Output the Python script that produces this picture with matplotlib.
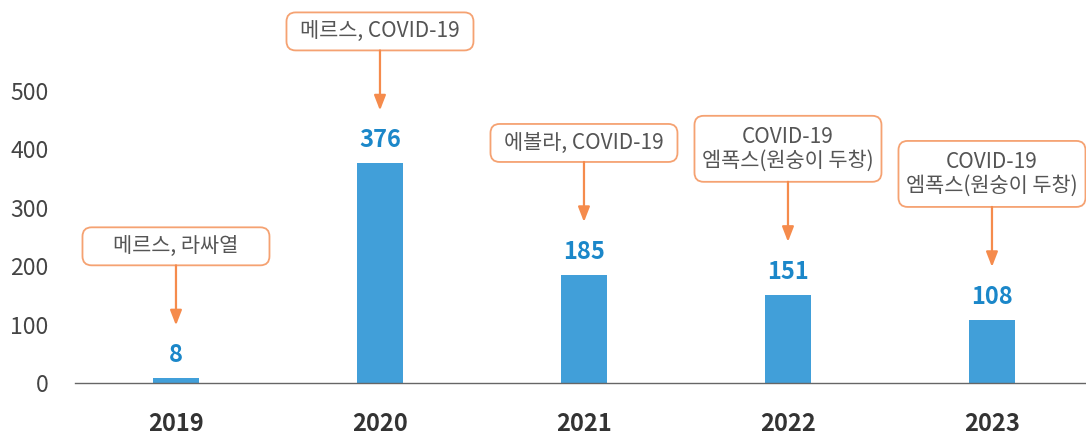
import matplotlib.pyplot as plt
from matplotlib.patches import FancyBboxPatch

plt.rcParams["font.family"] = ["Noto Sans CJK KR", "DejaVu Sans"]

years = ["2019", "2020", "2021", "2022", "2023"]
counts = [8, 376, 185, 151, 108]
notes = [
    "메르스, 라싸열",
    "메르스, COVID-19",
    "에볼라, COVID-19",
    "COVID-19\n엠폭스(원숭이 두창)",
    "COVID-19\n엠폭스(원숭이 두창)",
]
y_ticks = [0, 100, 200, 300, 400, 500]

BAR_COLOR = "#419fd9"
VALUE_COLOR = "#1b87c9"
ORANGE = "#f58b4c"
BOX_EDGE = "#f5a272"

fig = plt.figure(figsize=(10.86, 4.37), dpi=100)
ax = fig.add_axes([75 / 1086, 54 / 437, 1010 / 1086, 292 / 437])

x = list(range(len(years)))
ax.bar(x, counts, width=0.225, color=BAR_COLOR, zorder=2)

ax.set_xlim(-0.495, 4.456)
ax.set_ylim(0, 500)

# pixel -> data conversion for y and x
px_y = 292 / 500
px_x = 1010 / (4.456 + 0.495)
aspect = px_x / px_y

box_w = 187 / px_x
for xi, v, note in zip(x, counts, notes):
    ax.text(xi, v + 23 / px_y, str(v), ha="center", va="center",
            fontsize=17, fontweight="bold", color=VALUE_COLOR)

    n_lines = note.count("\n") + 1
    box_h = (38 if n_lines == 1 else 66) / px_y
    box_bottom = v + 113 / px_y
    patch = FancyBboxPatch(
        (xi - box_w / 2, box_bottom), box_w, box_h,
        boxstyle="round,pad=0,rounding_size=0.045",
        mutation_aspect=aspect,
        facecolor="white", edgecolor=BOX_EDGE, linewidth=1.3,
        clip_on=False, zorder=3,
    )
    ax.add_patch(patch)
    ax.text(xi, box_bottom + box_h / 2, note, ha="center", va="center",
            fontsize=15, color="#555555", linespacing=1.1,
            zorder=4, clip_on=False)

    ax.annotate(
        "", xy=(xi, v + 53 / px_y), xytext=(xi, box_bottom),
        arrowprops=dict(arrowstyle="-|>,head_length=0.9,head_width=0.35",
                        color=ORANGE, linewidth=1.6, shrinkA=0, shrinkB=0),
        annotation_clip=False, zorder=3,
    )

ax.set_xticks(x)
ax.set_xticklabels(years, fontsize=17, fontweight="bold", color="#333333")
ax.set_yticks(y_ticks)
ax.set_yticklabels([str(t) for t in y_ticks], fontsize=16.5, color="#444444")
ax.tick_params(axis="x", length=0, pad=21)
ax.tick_params(axis="y", length=0, pad=19)

for side in ["top", "right", "left"]:
    ax.spines[side].set_visible(False)
ax.spines["bottom"].set_color("#666666")
ax.spines["bottom"].set_linewidth(1.0)

fig.savefig("out.png", dpi=100)
